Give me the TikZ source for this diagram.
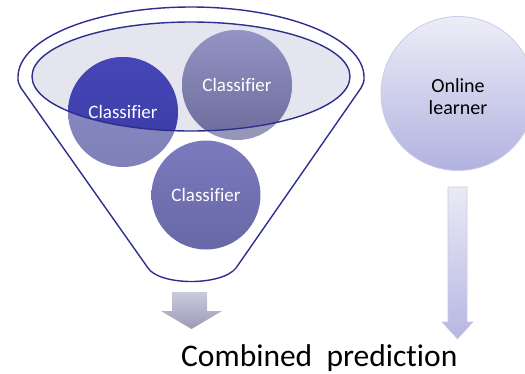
\documentclass[tikz,border=0pt]{standalone}
\usepackage{fontspec}
\setmainfont{Carlito}[Ligatures=NoCommon]
\definecolor{funnelc}{HTML}{2E2E8C}
\definecolor{ellfill}{HTML}{E4E5EE}
\definecolor{conedark}{HTML}{4646B8}
\definecolor{conedarkb}{HTML}{3A3AA4}
\definecolor{conelight}{HTML}{8C8CC8}
\definecolor{conelightb}{HTML}{8080B8}
\definecolor{ctwotop}{HTML}{9494C4}
\definecolor{ctwobot}{HTML}{6C6C9C}
\definecolor{ctwolight}{HTML}{A6A6CC}
\definecolor{cthreetop}{HTML}{7A7ABE}
\definecolor{cthreebot}{HTML}{6868A6}
\definecolor{onltop}{HTML}{EDEDF8}
\definecolor{onlbot}{HTML}{B2B2E0}
\definecolor{onlborder}{HTML}{CACAEA}
\definecolor{rarrtop}{HTML}{EAEAF6}
\definecolor{rarrbot}{HTML}{B6B6E2}
\definecolor{larrtop}{HTML}{CACADE}
\definecolor{larrbot}{HTML}{9A9AB4}
\begin{document}
\begin{tikzpicture}[x=1pt,y=-1pt,
  ctext/.style={text=white,font=\fontsize{19}{22}\selectfont,inner sep=0pt},
  funnelline/.style={draw=funnelc,line width=1.4pt,line join=round}]
\useasboundingbox (0,0) rectangle (525,373);
% funnel outer outline
\draw[funnelline] (364,77) arc[start angle=0,end angle=180,x radius=173pt,y radius=70pt]
  .. controls (18,82) .. (21,88) -- (148,268)
  .. controls (160,286) and (222,286) .. (236,268) -- (361,88)
  .. controls (364,82) .. (364,77) -- cycle;
% inner ellipse fill
\coordinate (ec) at (191,76.5);
\fill[ellfill] (ec) ellipse[x radius=159pt,y radius=54.5pt];
% classifier circles
\coordinate (c1) at (123,112);
\coordinate (c2) at (237,85);
\coordinate (c3) at (206,195);
\shade[top color=conelight,bottom color=conelightb] (c1) circle[radius=55pt];
\shade[top color=ctwolight,bottom color=ctwolight!90!black] (c2) circle[radius=55pt];
\begin{scope}
  \clip (ec) ellipse[x radius=159pt,y radius=54.5pt];
  \shade[top color=conedark,bottom color=conedarkb] (c1) circle[radius=55pt];
  \shade[top color=ctwotop,bottom color=ctwobot] (c2) circle[radius=55pt];
\end{scope}
\shade[top color=cthreetop,bottom color=cthreebot] (c3) circle[radius=54.5pt];
% inner ellipse outline
\draw[funnelline] (ec) ellipse[x radius=159pt,y radius=54.5pt];
% classifier labels
\node[ctext] (n1) at (c1) {Classifier};
\node[ctext] (n2) at (c2) {Classifier};
\node[ctext] (n3) at (c3) {Classifier};
% online learner
\node[circle,minimum size=154pt,inner sep=0pt,top color=onltop,bottom color=onlbot,
  draw=onlborder,line width=0.8pt] (ol) at (458,93.5) {};
\node[align=center,inner sep=0pt,font=\fontsize{20}{22}\selectfont]
  (olt) at (458,96.5) {Online\\learner};
% left block arrow
\shade[top color=larrtop,bottom color=larrbot]
  (172,292) -- (207,292) -- (207,311) -- (222,311) -- (191.5,329) -- (161,311) -- (172,311) -- cycle;
% right block arrow
\shade[top color=rarrtop,bottom color=rarrbot,draw=onlborder,line width=0.6pt]
  (448,187) -- (467,187) -- (467,322) -- (473,322) -- (457.5,339) -- (442,322) -- (448,322) -- cycle;
% combined prediction
\node[anchor=base west,inner sep=0pt,font=\fontsize{31.5}{36}\selectfont] (cp) at (181,366.5) {Combined\ \ prediction};
\end{tikzpicture}
\end{document}
